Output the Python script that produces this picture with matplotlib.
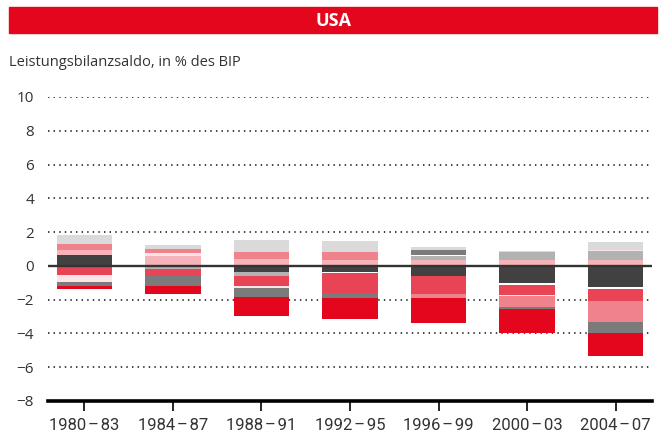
import matplotlib
matplotlib.use("Agg")
import matplotlib.pyplot as plt
from matplotlib import font_manager as fm
from matplotlib.patches import Rectangle
import numpy as np

# ---- data ----
periods = ["1980\u200a\u2013\u200a83", "1984\u200a\u2013\u200a87", "1988\u200a\u2013\u200a91",
           "1992\u200a\u2013\u200a95", "1996\u200a\u2013\u200a99", "2000\u200a\u2013\u200a03",
           "2004\u200a\u2013\u200a07"]
y_ticks = [10, 8, 6, 4, 2, 0, -2, -4, -6, -8]
y_tick_labels = ["10", "8", "6", "4", "2", "0", "\u22122", "\u22124", "\u22126", "\u22128"]

dark_grey  = [0.64, 0.00, -0.34, -0.38, -0.58, -1.01, -1.25]
light_pink = [0.30, 0.60, 0.40, 0.335, 0.34, 0.34, 0.34]
mid_grey   = [0.00, -0.21, -0.24, 0.00, 0.24, 0.49, 0.55]
white_part = [0.00, 0.00, 0.00, -0.06, 0.06, -0.12, -0.12]
salmon     = [-0.52, -0.37, -0.61, -1.18, -1.10, -0.61, -0.73]
pale_pink  = [-0.43, 0.16, -0.12, 0.00, 0.00, -0.06, 0.06]
pink       = [0.37, 0.24, 0.43, 0.49, -0.24, -0.61, -1.22]
grey       = [-0.22, -0.61, -0.55, -0.30, 0.30, -0.12, -0.67]
red        = [-0.20, -0.49, -1.10, -1.22, -1.46, -1.46, -1.34]
light_grey = [0.49, 0.24, 0.73, 0.67, 0.18, 0.06, 0.49]

series = [dark_grey, light_pink, mid_grey, white_part, salmon, pale_pink,
          pink, grey, red, light_grey]
colors = ["#414141", "#F6B4BA", "#B2B2B2", "#FFFFFF", "#E94356", "#FCE3E6",
          "#F0828C", "#7B7B7B", "#E3061C", "#DADADA"]

RED = "#E3061C"
TXT = "#333333"

names = {f.name for f in fm.fontManager.ttflist}
base_font = "Open Sans" if "Open Sans" in names else "DejaVu Sans"
if "Liberation Sans Narrow" in names:
    cond_font, cond_size = "Liberation Sans Narrow", 13.5
else:
    cond_font, cond_size = "Roboto", 12
plt.rcParams["font.family"] = [base_font, "DejaVu Sans"]

W, H = 665, 443
fig = plt.figure(figsize=(W / 100, H / 100), dpi=100)
ax = fig.add_axes([48 / W, 1 - 401 / H, (652 - 48) / W, (401 - 97) / H])

# header
fig.patches.append(Rectangle((9 / W, 1 - 33 / H), 648 / W, 26 / H,
                             transform=fig.transFigure, color=RED, zorder=0))
fig.text(333 / W, 1 - 20.5 / H, "USA", color="white", fontsize=13, fontweight="bold",
         ha="center", va="center")
fig.text(9 / W, 1 - 63 / H, "Leistungsbilanzsaldo, in % des BIP", color=TXT,
         fontsize=10.5, ha="left", va="center")

x = np.arange(len(periods))
pos_cum = np.zeros(len(periods))
neg_cum = np.zeros(len(periods))
for vals, c in zip(series, colors):
    v = np.array(vals, dtype=float)
    bottom = np.where(v >= 0, pos_cum, neg_cum)
    ax.bar(x, v, bottom=bottom, width=0.627, color=c, linewidth=0, zorder=2)
    pos_cum = pos_cum + np.where(v > 0, v, 0)
    neg_cum = neg_cum + np.where(v < 0, v, 0)

for v in y_ticks:
    if v in (0, -8):
        continue
    ax.axhline(v, color=TXT, lw=1.3, linestyle=(0, (0.8, 2.3)), zorder=1)
ax.axhline(0, color=TXT, lw=1.7, zorder=3)

ax.set_xlim(-0.41, len(periods) - 1 + 0.41)
ax.set_ylim(-8, 10)
ax.set_yticks(y_ticks)
ax.set_yticklabels(y_tick_labels)
ax.set_xticks(x)
ax.set_xticklabels(periods, family=[cond_font, "DejaVu Sans"], fontsize=cond_size)

for s in ("top", "right", "left"):
    ax.spines[s].set_visible(False)
ax.spines["bottom"].set_linewidth(2.6)
ax.spines["bottom"].set_color("black")
ax.tick_params(axis="y", length=0, pad=10, labelsize=11, labelcolor=TXT)
ax.tick_params(axis="x", length=7.5, width=1.2, color="black", pad=5, labelcolor=TXT)
ax.patch.set_alpha(0)

fig.savefig("out.png", dpi=100)
